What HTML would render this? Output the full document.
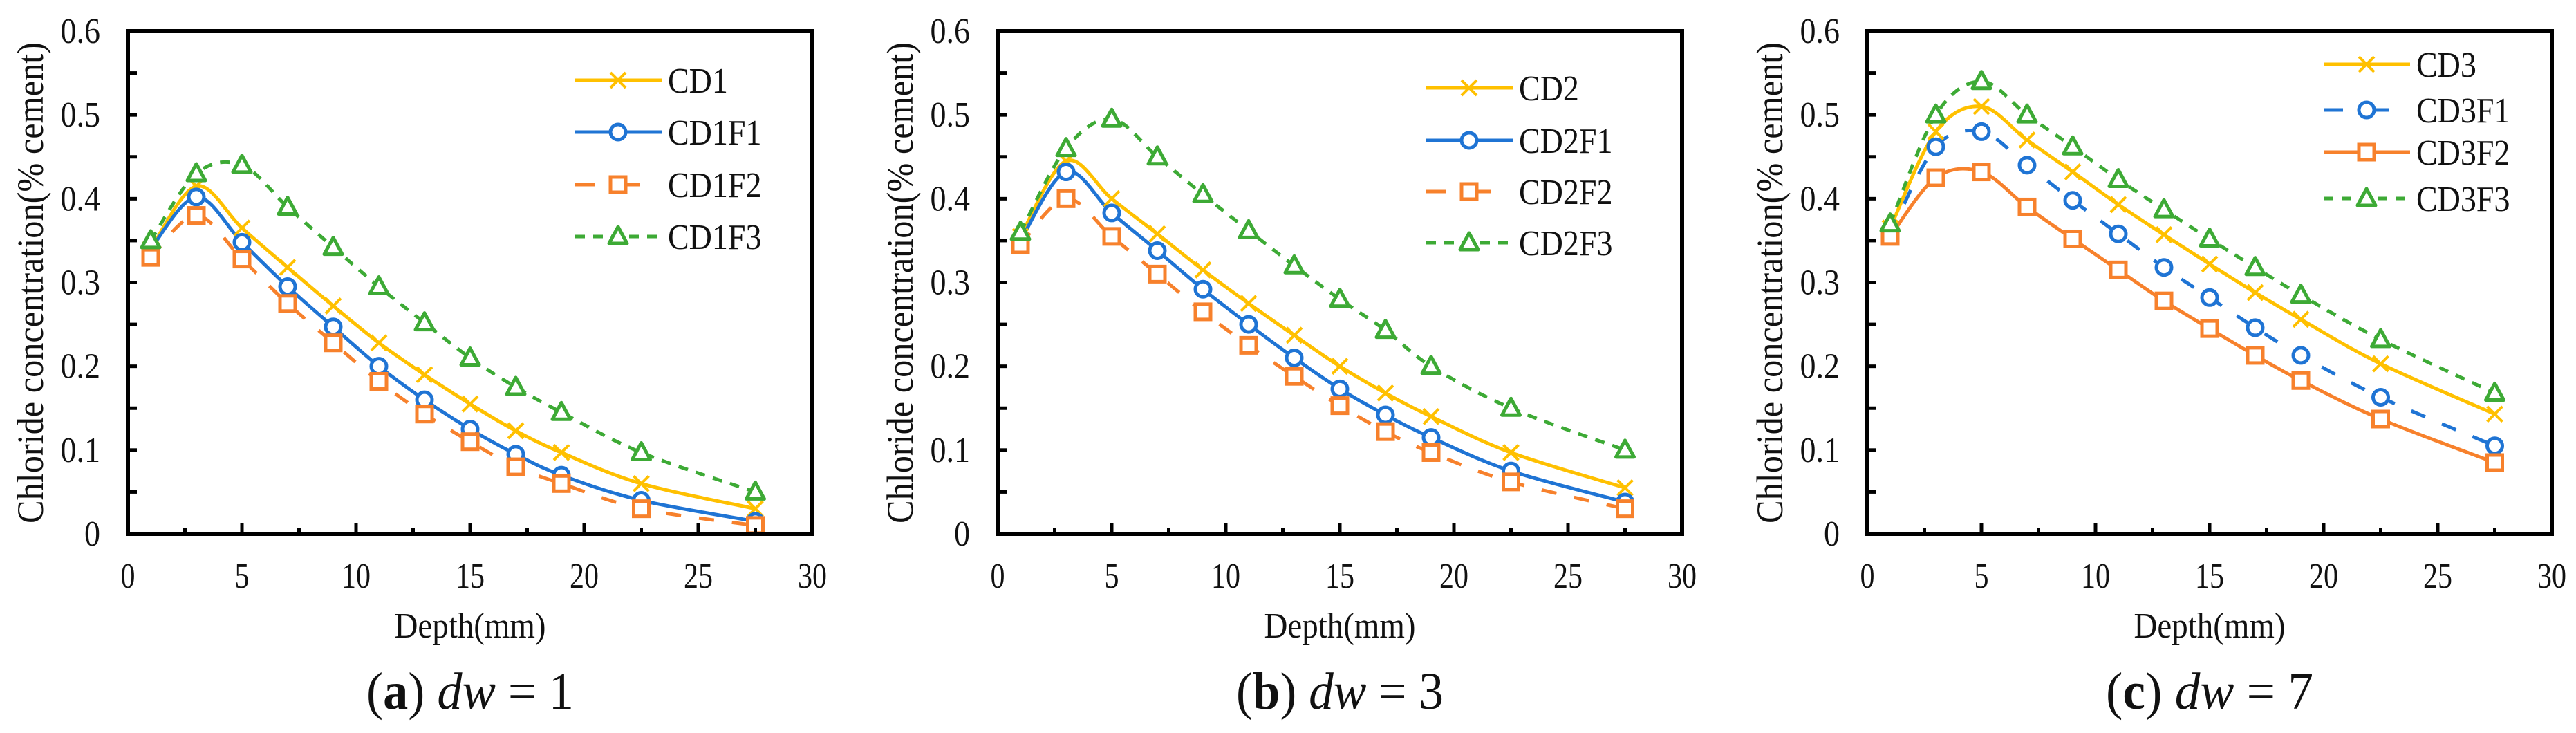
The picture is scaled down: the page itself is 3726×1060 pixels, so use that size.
<!DOCTYPE html>
<html><head><meta charset="utf-8"><style>
html,body{margin:0;padding:0;background:#fff;}
svg{display:block;font-family:"Liberation Serif","Times New Roman",serif;}
svg text{font-family:"Liberation Serif","Times New Roman",serif !important;fill:#111;}
</style></head><body>
<svg id="fig" width="3726" height="1060" viewBox="0 0 3726 1060" xmlns="http://www.w3.org/2000/svg"></svg>
<script>
const depths = [1,3,5,7,9,11,13,15,17,19,22.5,27.5];
const xTicks = [0,5,10,15,20,25,30];
const yTicks = [0,0.1,0.2,0.3,0.4,0.5,0.6];
const yTickLabels = ["0","0.1","0.2","0.3","0.4","0.5","0.6"];

const namesA = ["CD1","CD1F1","CD1F2","CD1F3"];
const cd1   = [0.34,0.415,0.365,0.318,0.272,0.228,0.19,0.155,0.123,0.097,0.06,0.03];
const cd1f1 = [0.34,0.402,0.348,0.295,0.247,0.2,0.16,0.125,0.095,0.07,0.04,0.015];
const cd1f2 = [0.33,0.38,0.328,0.275,0.228,0.182,0.143,0.11,0.08,0.06,0.03,0.01];
const cd1f3 = [0.35,0.43,0.44,0.39,0.342,0.295,0.252,0.21,0.175,0.145,0.097,0.05];

const namesB = ["CD2","CD2F1","CD2F2","CD2F3"];
const cd2   = [0.355,0.445,0.4,0.358,0.315,0.275,0.237,0.2,0.168,0.14,0.097,0.055];
const cd2f1 = [0.35,0.432,0.383,0.338,0.292,0.25,0.21,0.173,0.142,0.115,0.075,0.038];
const cd2f2 = [0.345,0.4,0.355,0.31,0.265,0.225,0.188,0.153,0.122,0.097,0.062,0.03];
const cd2f3 = [0.36,0.46,0.495,0.45,0.405,0.362,0.32,0.28,0.243,0.2,0.15,0.1];

const namesC = ["CD3","CD3F1","CD3F2","CD3F3"];
const cd3   = [0.365,0.48,0.51,0.47,0.432,0.393,0.357,0.322,0.288,0.256,0.203,0.143];
const cd3f1 = [0.358,0.462,0.48,0.44,0.398,0.358,0.318,0.282,0.246,0.213,0.163,0.105];
const cd3f2 = [0.355,0.425,0.432,0.39,0.352,0.315,0.278,0.245,0.213,0.183,0.137,0.085];
const cd3f3 = [0.37,0.5,0.54,0.5,0.462,0.423,0.387,0.352,0.318,0.285,0.232,0.168];

const NS="http://www.w3.org/2000/svg";
const svg=document.getElementById('fig');
const C={y:"#FFC000",b:"#1F74D4",o:"#F7812C",g:"#3DAA35"};
const DASH_LONG="22 26", DASH_SHORT="14 12";
const CW={C:0.667,D:0.722,F:0.556,'.':0.25};
function estW(s,fs){let w=0;for(const ch of s)w+=(CW[ch]||0.5);return w*fs;}

function el(tag,attrs,parent){const e=document.createElementNS(NS,tag);for(const k in attrs)e.setAttribute(k,attrs[k]);if(tag==='text')e.setAttribute('style',"font-family:'Liberation Serif','Times New Roman',serif");(parent||svg).appendChild(e);return e;}

function smoothPath(pts){
  let d="M"+pts[0][0]+","+pts[0][1];
  for(let i=0;i<pts.length-1;i++){
    const p0=pts[i-1]||pts[i],p1=pts[i],p2=pts[i+1],p3=pts[i+2]||p2;
    const t=1/6;
    d+=" C"+(p1[0]+(p2[0]-p0[0])*t)+","+(p1[1]+(p2[1]-p0[1])*t)+" "+(p2[0]-(p3[0]-p1[0])*t)+","+(p2[1]-(p3[1]-p1[1])*t)+" "+p2[0]+","+p2[1];
  }
  return d;
}

function marker(g,type,x,y,color){
  let m;
  if(type==="x"){
    m=el('path',{d:`M${x-11},${y-11}L${x+11},${y+11}M${x-11},${y+11}L${x+11},${y-11}`,stroke:color,'stroke-width':4,fill:'none'},g);
  }else if(type==="o"){
    m=el('circle',{cx:x,cy:y,r:11,stroke:color,'stroke-width':5,fill:'#fff'},g);
  }else if(type==="s"){
    m=el('rect',{x:x-11,y:y-11,width:22,height:22,stroke:color,'stroke-width':5,fill:'#fff'},g);
  }else{
    m=el('path',{d:`M${x},${y-14}L${x+13},${y+10}L${x-13},${y+10}Z`,stroke:color,'stroke-width':5,fill:'#fff','stroke-linejoin':'round'},g);
  }
  
  
}

function panel(cfg){
  const L=cfg.left,R=cfg.left+990,T=45,B=772;
  const xs=v=>L+(v/30)*(R-L);
  const ys=v=>B-(v/0.6)*(B-T);
  const g=el('g',{});
  
  
  cfg.series.forEach((s,si)=>{
    const pts=depths.map((d,i)=>[xs(d),ys(s.data[i])]);
    const p=el('path',{d:smoothPath(pts),fill:'none',stroke:s.color,'stroke-width':5,'stroke-dasharray':s.dash||'none'},g);
    
    
  });
  cfg.series.forEach(s=>{
    depths.forEach((d,i)=>marker(g,s.m,xs(d),ys(s.data[i]),s.color));
  });
  const fr=el('rect',{x:L,y:T,width:R-L,height:B-T,fill:'none',stroke:'#000','stroke-width':6},g);
  
  
  for(let v=0;v<=0.6001;v+=0.05){
    const t=el('line',{x1:L,x2:L+13,y1:ys(v),y2:ys(v),stroke:'#000','stroke-width':5},g);
    
    
  }
  yTicks.forEach((v,i)=>{
    const t=el('text',{x:L-40,y:ys(v)+17,'text-anchor':'end','font-size':52,textLength:estW(yTickLabels[i],46),lengthAdjust:'spacingAndGlyphs'},g);
    t.textContent=yTickLabels[i];
    
    
  });
  for(let v=0;v<=30;v+=2.5){
    const major=(v%5===0);
    const t=el('line',{x1:xs(v),x2:xs(v),y1:B,y2:B-(major?15:9),stroke:'#000','stroke-width':5},g);
    
    
  }
  xTicks.forEach(v=>{
    const t=el('text',{x:xs(v),y:850,'text-anchor':'middle','font-size':52,textLength:estW(String(v),42),lengthAdjust:'spacingAndGlyphs'},g);
    t.textContent=String(v);
    
    
  });
  const xt=el('text',{x:(L+R)/2,y:922,'text-anchor':'middle','font-size':52,textLength:219,lengthAdjust:'spacingAndGlyphs'},g);
  xt.textContent="Depth(mm)";
  
  
  const yc=L-141, ymid=409;
  const yt=el('text',{x:yc,y:ymid,'text-anchor':'middle','font-size':54,transform:`rotate(-90 ${yc} ${ymid}) translate(0 18)`,textLength:696,lengthAdjust:'spacingAndGlyphs'},g);
  yt.textContent="Chloride concentration(% cement)";
  
  
  cfg.series.forEach((s,i)=>{
    const ly=cfg.legY[i], lx=cfg.legX;
    const lg=el('g',{},g);
    
    
    el('line',{x1:lx,x2:lx+125,y1:ly,y2:ly,stroke:s.color,'stroke-width':5,'stroke-dasharray':s.legDash||s.dash||'none'},lg);
    marker(lg,s.m,lx+62,ly,s.color);
    const tx=el('text',{x:lx+134,y:ly+18,'font-size':52,textLength:estW(cfg.names[i],46),lengthAdjust:'spacingAndGlyphs'},lg);
    tx.textContent=cfg.names[i];
  });
  const cap=el('text',{x:(L+R)/2,y:1025,'text-anchor':'middle','font-size':76,textLength:300,lengthAdjust:'spacingAndGlyphs'},g);
  
  
  cap.innerHTML=`(<tspan font-weight="bold">${cfg.letter}</tspan>) <tspan font-style="italic">dw</tspan> = ${cfg.dw}`;
}

panel({id:'panel-a',left:185,letter:'a',dw:1,names:namesA,legX:832,legY:[116,191,267,342],
  series:[{data:cd1,color:C.y,m:'x'},{data:cd1f1,color:C.b,m:'o'},{data:cd1f2,color:C.o,m:'s',dash:DASH_LONG,legDash:"28 38"},{data:cd1f3,color:C.g,m:'t',dash:DASH_SHORT}]});
panel({id:'panel-b',left:1443,letter:'b',dw:3,names:namesB,legX:2063,legY:[127,203,277,351],
  series:[{data:cd2,color:C.y,m:'x'},{data:cd2f1,color:C.b,m:'o'},{data:cd2f2,color:C.o,m:'s',dash:DASH_LONG,legDash:"28 38"},{data:cd2f3,color:C.g,m:'t',dash:DASH_SHORT}]});
panel({id:'panel-c',left:2701,letter:'c',dw:7,names:namesC,legX:3361,legY:[93,159,220,287],
  series:[{data:cd3,color:C.y,m:'x'},{data:cd3f1,color:C.b,m:'o',dash:DASH_LONG,legDash:"28 38"},{data:cd3f2,color:C.o,m:'s'},{data:cd3f3,color:C.g,m:'t',dash:DASH_SHORT}]});
</script>
</body></html>
